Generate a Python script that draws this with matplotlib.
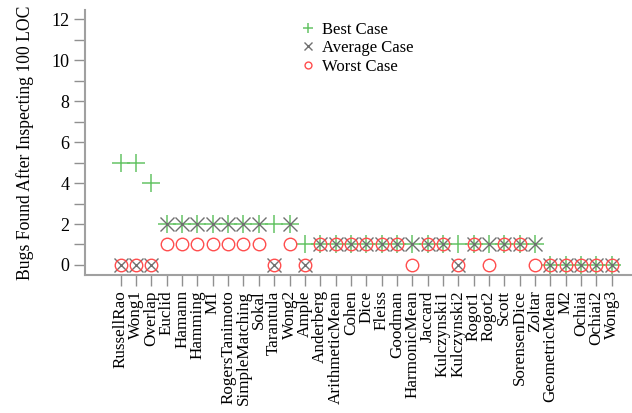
import numpy as np
import matplotlib
matplotlib.use('Agg')
import matplotlib.pyplot as plt

# ranking metrics on the x axis
metrics = ['RussellRao', 'Wong1', 'Overlap', 'Euclid', 'Hamann', 'Hamming', 'M1',
           'RogersTanimoto', 'SimpleMatching', 'Sokal', 'Tarantula', 'Wong2', 'Ample',
           'Anderberg', 'ArithmeticMean', 'Cohen', 'Dice', 'Fleiss', 'Goodman',
           'HarmonicMean', 'Jaccard', 'Kulczynski1', 'Kulczynski2', 'Rogot1', 'Rogot2',
           'Scott', 'SorensenDice', 'Zoltar', 'GeometricMean', 'M2', 'Ochiai',
           'Ochiai2', 'Wong3']

best_case = [5, 5, 4, 2, 2, 2, 2, 2, 2, 2, 2, 2, 1,
             1, 1, 1, 1, 1, 1, 1, 1, 1, 1, 1, 1, 1, 1, 1,
             0, 0, 0, 0, 0]
average_case = [0, 0, 0, 2, 2, 2, 2, 2, 2, 2, 0, 2, 0,
                1, 1, 1, 1, 1, 1, 1, 1, 1, 0, 1, 1, 1, 1, 1,
                0, 0, 0, 0, 0]
worst_case = [0, 0, 0, 1, 1, 1, 1, 1, 1, 1, 0, 1, 0,
              1, 1, 1, 1, 1, 1, 0, 1, 1, 0, 1, 0, 1, 1, 0,
              0, 0, 0, 0, 0]

plt.rcParams['font.family'] = ['Liberation Serif', 'DejaVu Serif']
plt.rcParams['font.size'] = 12

fig = plt.figure(figsize=(6.32, 4.13), dpi=100)
ax = fig.add_axes([85 / 632, 138 / 413, 547 / 632, 265 / 413])

x = np.arange(len(metrics))
ax.plot(x, best_case, linestyle='none', marker='+', ms=13, mew=1.1,
        color='#66c466', label='Best Case')
ax.plot(x, average_case, linestyle='none', marker='x', ms=9.5, mew=1.0,
        color='#707070', label='Average Case')
ax.plot(x, worst_case, linestyle='none', marker='o', ms=9, mew=1.0,
        mfc='none', color='#ff4d4d', label='Worst Case')

ax.set_xlim(-2.33, 33.32)
ax.set_ylim(-0.49, 12.45)
ax.set_xticks(x)
ax.set_xticklabels(metrics, rotation=90, fontsize=12.3)
ax.set_yticks(np.arange(0, 13, 2))
ax.set_yticks(np.arange(1, 13, 2), minor=True)
ax.tick_params(axis='y', labelsize=13)

for s in ['top', 'right']:
    ax.spines[s].set_visible(False)
for s in ['left', 'bottom']:
    ax.spines[s].set_color('#a0a0a0')
    ax.spines[s].set_linewidth(1.5)
ax.tick_params(axis='both', which='both', direction='out', length=8,
               width=1, color='#909090', pad=3)

ax.set_ylabel('Bugs Found After Inspecting 100 LOC', fontsize=12.7, labelpad=13)

ax.legend(loc='upper left', bbox_to_anchor=(0.372, 1.0), frameon=False,
          markerscale=0.55, handlelength=1.0, handletextpad=0.3,
          labelspacing=0.15, borderaxespad=0.3)

fig.savefig('out.png', dpi=100)
